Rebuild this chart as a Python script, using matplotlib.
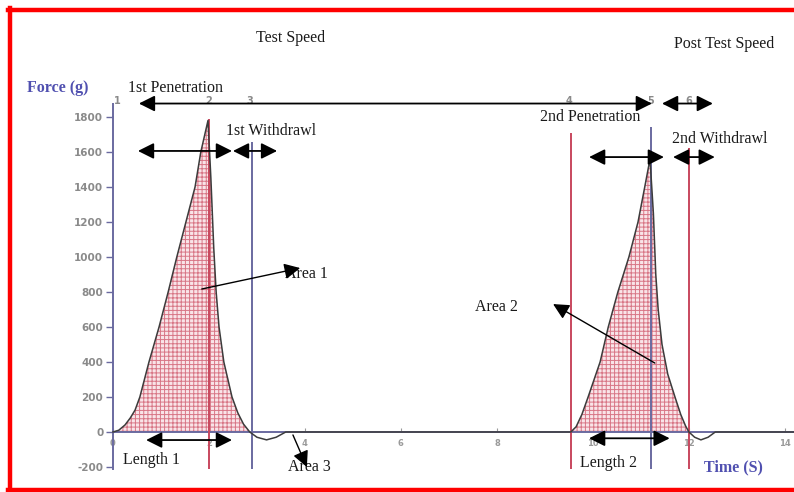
import numpy as np
import matplotlib.pyplot as plt
from matplotlib.lines import Line2D

# texture profile: force (g) against time (s), two compression cycles
time = [0.0, 0.12, 0.25, 0.36, 0.46, 0.56, 0.75, 0.96, 1.15, 1.33, 1.52, 1.71, 1.83, 1.98,
        2.04, 2.1, 2.15, 2.21, 2.31, 2.48, 2.6, 2.72, 2.85, 3.0, 3.2, 3.4, 3.6, 5.0, 7.0,
        9.54, 9.65, 9.77, 9.9, 10.15, 10.32, 10.52, 10.75, 10.94, 11.08, 11.19,
        11.26, 11.31, 11.36, 11.44, 11.56, 11.71, 11.83, 11.93, 12.0, 12.12, 12.25, 12.4,
        12.55, 14.2]
force = [0, 10, 40, 80, 125, 200, 400, 600, 800, 1000, 1200, 1400, 1600, 1780,
         1450, 1050, 800, 600, 400, 200, 110, 45, 0, -30, -45, -30, 0, 0, 0,
         0, 30, 100, 200, 400, 600, 800, 1000, 1200, 1400, 1560,
         1250, 900, 700, 500, 330, 200, 100, 35, 0, -30, -45, -30,
         0, 0]

y_ticks = list(range(-200, 2000, 200))
x_ticks = list(range(0, 16, 2))

# event markers 1..6 (start, peak, end of each stroke)
marker_names = ['1', '2', '3', '4', '5', '6']
marker_times = [0.1, 2.0, 2.85, 9.5, 11.2, 12.0]
red_lines = [2.0, 9.55, 12.0]
red_tops = [1790, 1710, 1625]
blue_lines = [2.9, 11.2]
blue_tops = [1660, 1745]

red = '#c8485e'
slate = '#6a6aa0'
serif = 'Liberation Serif'

plt.rcParams['hatch.linewidth'] = 0.7

fig = plt.figure(figsize=(7.94, 4.92), dpi=100)
ax = fig.add_axes([0, 0, 1, 1])
ax.set_xlim(-2.354, 14.19)
ax.set_ylim(-342.9, 2468.6)

for side in ['top', 'right']:
    ax.spines[side].set_visible(False)
ax.spines['left'].set_position(('data', 0))
ax.spines['bottom'].set_position(('data', 0))
ax.spines['left'].set_bounds(-210, 1800)
ax.spines['bottom'].set_bounds(0, 14.19)
for side in ['left', 'bottom']:
    ax.spines[side].set_color(slate)
    ax.spines[side].set_linewidth(1.4)

ax.set_yticks(y_ticks)
ax.set_yticklabels([str(v) for v in y_ticks], fontsize=7.5, color='#8a8a8a',
                   fontweight='bold')
ax.tick_params(axis='y', direction='out', length=5, width=1, color=slate, pad=2)
ax.set_xticks(x_ticks)
ax.set_xticklabels([str(v) for v in x_ticks], fontsize=6, color='#9a9a9a',
                   fontweight='bold')
ax.tick_params(axis='x', direction='in', length=3, width=0.8, color='#999999', pad=5)

# shaded work areas under each peak
t = np.array(time)
f = np.array(force)
ax.fill_between(t, f, 0, where=f > 0, interpolate=True, facecolor='#f9e4e8',
                edgecolor='#d87686', hatch='++++', linewidth=0, zorder=2)
ax.plot(t, f, color='#3c3c3c', lw=1.1, zorder=4)

for x, top in zip(red_lines, red_tops):
    ax.vlines(x, -210, top, color=red, lw=1.4, zorder=3)
for x, top in zip(blue_lines, blue_tops):
    ax.vlines(x, -210, top, color=slate, lw=1.4, zorder=3)
ax.vlines(0, 1800, 1880, color=slate, lw=1.4)

for name, x in zip(marker_names, marker_times):
    ax.text(x, 1890, name, fontsize=7, color='#8a8a8a', fontweight='bold',
            ha='center', va='center')

# stage arrows
dbl = dict(arrowstyle='<|-|>', mutation_scale=24, lw=1.3, color='black',
           shrinkA=0, shrinkB=0)
one = dict(arrowstyle='-|>', mutation_scale=24, lw=1.0, color='black',
           shrinkA=0, shrinkB=0)
spans = [(0.54, 11.23, 1877), (11.44, 12.5, 1877),
         (0.52, 2.48, 1606), (2.5, 3.42, 1606),
         (9.92, 11.48, 1571), (11.67, 12.54, 1571),
         (0.69, 2.48, -46), (9.92, 11.6, -36)]
for x0, x1, y in spans:
    ax.annotate('', xy=(x1, y), xytext=(x0, y), arrowprops=dbl, zorder=6)
ax.annotate('', xy=(3.9, 937), xytext=(1.85, 817), arrowprops=one, zorder=6)
ax.annotate('', xy=(9.17, 731), xytext=(11.29, 394), arrowprops=one, zorder=6)
ax.annotate('', xy=(4.04, -200), xytext=(3.75, -17), arrowprops=one, zorder=6)

labels = [('Test Speed', 3.71, 2251), ('Post Test Speed', 12.73, 2217),
          ('1st Penetration', 1.31, 1966), ('1st Withdrawl', 3.29, 1720),
          ('2nd Penetration', 9.94, 1800), ('2nd Withdrawl', 12.65, 1674),
          ('Area 1', 4.04, 903), ('Area 2', 8.0, 714), ('Area 3', 4.1, -200),
          ('Length 1', 0.81, -160), ('Length 2', 10.33, -177)]
for s, x, y in labels:
    ax.text(x, y, s, fontsize=11.5, family=serif, color='#1a1a1a',
            ha='center', va='center', zorder=5)
ax.text(-1.15, 1966, 'Force (g)', fontsize=11.5, family=serif, fontweight='bold',
        color='#5050b0', ha='center', va='center')
ax.text(12.92, -200, 'Time (S)', fontsize=11.5, family=serif, fontweight='bold',
        color='#5050b0', ha='center', va='center')

# red frame along left, top and bottom edges
fig.add_artist(Line2D([10 / 794, 10 / 794], [0, 1 - 8 / 492], color='red', lw=3.2,
                      transform=fig.transFigure))
fig.add_artist(Line2D([8 / 794, 1], [1 - 10 / 492, 1 - 10 / 492], color='red', lw=3.2,
                      transform=fig.transFigure))
fig.add_artist(Line2D([8 / 794, 1], [2 / 492, 2 / 492], color='red', lw=3.2,
                      transform=fig.transFigure))

fig.savefig('out.png', dpi=100)
